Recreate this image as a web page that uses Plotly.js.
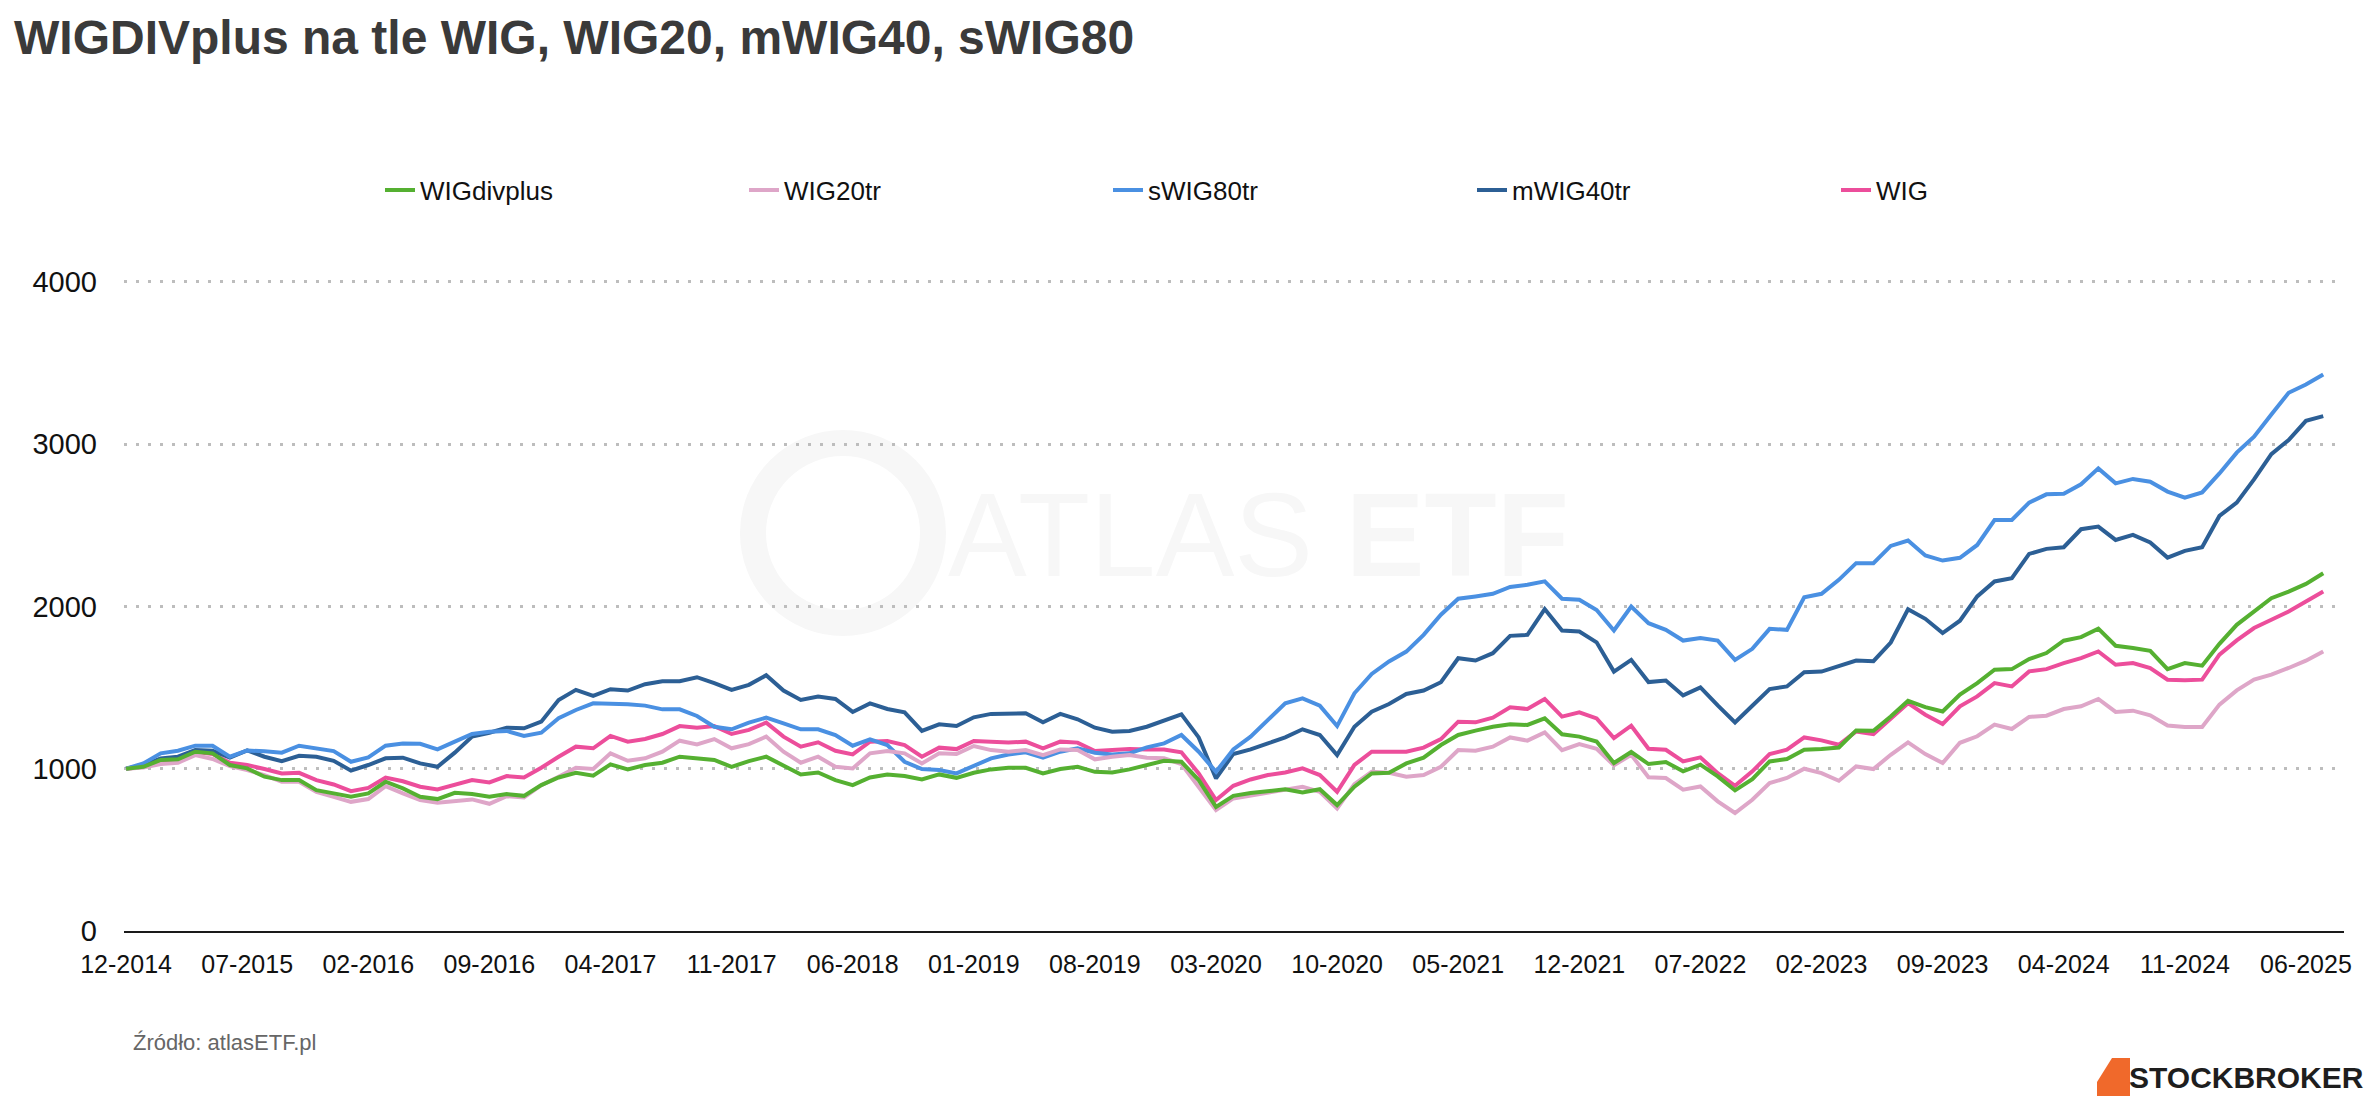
<!DOCTYPE html>
<html>
<head>
<meta charset="utf-8">
<script src="https://cdn.plot.ly/plotly-3.0.1.min.js"></script>
<style>
  html, body { margin: 0; padding: 0; background: #ffffff; }
  #chart { width: 2378px; height: 1104px; }
</style>
</head>
<body>
<div id="chart"></div>
<script>
// ---- data (monthly, 12-2014 .. 07-2025, start = 1000) ----
const startMonth = 12, startYear = 2014, monthCount = 128;
const months = [];
for (let i = 0; i < monthCount; i++) {
  const m = (startMonth - 1 + i) % 12 + 1;
  const y = startYear + Math.floor((startMonth - 1 + i) / 12);
  months.push((m < 10 ? '0' + m : '' + m) + '-' + y);
}

const tickLabels = ['12-2014','07-2015','02-2016','09-2016','04-2017','11-2017','06-2018',
  '01-2019','08-2019','03-2020','10-2020','05-2021','12-2021','07-2022','02-2023',
  '09-2023','04-2024','11-2024','06-2025'];

const yTicks = [0, 1000, 2000, 3000, 4000];

const wigDivPlus = [
  1000,1012,1054,1058,1105,1095,1023,1002,951,930,930,868,848,827,848,920,879,827,813,852,844,827,
  844,833,899,946,975,957,1027,996,1023,1037,1074,1064,1054,1012,1047,1074,1016,965,977,930,899,946,
  965,955,934,965,944,975,996,1006,1006,971,998,1012,981,977,996,1023,1049,1043,930,765,833,850,
  862,874,854,874,776,889,971,975,1033,1068,1146,1208,1235,1259,1274,1270,1311,1212,1198,1168,
  1035,1103,1029,1041,984,1025,953,867,936,1045,1060,1117,1121,1131,1236,1234,1322,1419,1380,1353,1457,
  1528,1610,1614,1676,1713,1789,1811,1863,1758,1744,1727,1614,1651,1635,1770,1887,1969,2051,2092,2139,2205];

const wig20tr = [
  1000,1008,1029,1037,1084,1060,1016,992,961,920,920,858,827,796,813,893,848,807,790,800,811,784,
  831,823,899,951,1006,998,1095,1049,1064,1105,1173,1150,1183,1126,1152,1198,1105,1037,1074,1012,1002,1095,
  1109,1095,1033,1095,1091,1140,1115,1105,1115,1084,1119,1115,1058,1074,1084,1068,1064,1029,889,745,817,835,
  848,868,889,858,755,905,981,975,951,961,1012,1115,1111,1136,1193,1173,1224,1115,1152,1123,
  1021,1086,947,943,871,891,799,727,809,912,943,1000,973,926,1014,998,1086,1162,1090,1035,1160,
  1200,1272,1245,1319,1327,1368,1385,1430,1350,1358,1329,1266,1257,1257,1395,1483,1549,1580,1621,1666,1723];

const swig80tr = [
  1000,1033,1095,1111,1142,1142,1074,1113,1107,1099,1142,1124,1109,1043,1070,1142,1156,1154,1119,1167,1214,1228,
  1233,1202,1222,1311,1362,1403,1403,1397,1389,1366,1366,1325,1259,1243,1284,1315,1280,1243,1243,1208,1142,1181,
  1146,1043,998,992,971,1019,1064,1088,1101,1068,1105,1126,1099,1088,1095,1132,1156,1208,1105,981,1119,1198,
  1300,1403,1434,1389,1263,1465,1584,1661,1722,1825,1949,2048,2062,2078,2120,2134,2155,2048,2041,1978,
  1852,2000,1897,1856,1790,1805,1790,1671,1739,1862,1856,2057,2078,2164,2267,2267,2373,2406,2314,2283,2300,
  2379,2533,2533,2640,2691,2695,2753,2851,2759,2786,2769,2708,2671,2703,2820,2948,3046,3183,3317,3368,3430];

const mwig40tr = [
  1000,1023,1064,1074,1115,1111,1068,1113,1074,1047,1080,1074,1049,988,1023,1064,1068,1033,1012,1099,1198,1222,
  1253,1249,1290,1424,1486,1449,1490,1482,1521,1539,1539,1564,1527,1486,1517,1576,1482,1424,1445,1430,1350,1403,
  1368,1348,1233,1274,1263,1317,1338,1342,1342,1286,1338,1305,1253,1228,1233,1259,1300,1335,1193,940,1091,1119,
  1156,1193,1243,1208,1084,1259,1352,1399,1461,1482,1533,1681,1667,1712,1819,1825,1984,1852,1846,1779,
  1599,1671,1534,1544,1452,1501,1390,1285,1388,1491,1507,1595,1599,1630,1667,1663,1778,1983,1924,1836,1912,
  2062,2154,2174,2324,2355,2365,2476,2492,2410,2441,2394,2301,2343,2365,2558,2640,2783,2939,3026,3144,3173];

const wig = [
  1000,1012,1049,1058,1105,1091,1037,1023,998,971,975,930,903,862,882,946,923,889,872,899,930,916,
  955,946,1006,1074,1136,1126,1202,1167,1183,1214,1263,1253,1263,1214,1239,1284,1198,1136,1163,1111,1088,1167,
  1171,1146,1074,1130,1121,1171,1163,1161,1167,1126,1167,1161,1109,1115,1121,1119,1119,1101,971,807,895,934,
  961,977,1002,961,858,1023,1105,1105,1105,1130,1183,1290,1286,1315,1379,1368,1430,1321,1348,1310,
  1189,1265,1123,1117,1045,1070,973,895,984,1090,1117,1193,1175,1148,1230,1214,1312,1404,1333,1275,1385,
  1446,1528,1507,1600,1614,1651,1682,1723,1641,1651,1621,1549,1545,1549,1703,1791,1867,1918,1969,2031,2092];

const seriesNames = ['WIGdivplus', 'WIG20tr', 'sWIG80tr', 'mWIG40tr', 'WIG'];
const seriesValues = [wigDivPlus, wig20tr, swig80tr, mwig40tr, wig];
const seriesColors = ['#55b031', '#dea6c8', '#4a90e2', '#2c5f95', '#ec4e9b'];

const FONT = '"Liberation Sans", Arial, sans-serif';

// draw in reverse so the legend order stays as in the reference and green sits on top
const traces = [];
for (let i = seriesNames.length - 1; i >= 0; i--) {
  traces.push({
    type: 'scatter', mode: 'lines',
    name: seriesNames[i],
    x: months, y: seriesValues[i],
    line: { color: seriesColors[i], width: 4, shape: 'linear' },
    hoverinfo: 'skip'
  });
}

// geometry helpers (pixels -> paper)
const W = 2378, H = 1104, ML = 124, MR = 34, MT = 280, MB = 173;
const PW = W - ML - MR, PH = H - MT - MB;
const px = x => (x - ML) / PW;
const py = y => (H - MB - y) / PH;

const layout = {
  width: W, height: H,
  margin: { l: ML, r: MR, t: MT, b: MB, pad: 0 },
  paper_bgcolor: '#ffffff', plot_bgcolor: 'rgba(0,0,0,0)',
  font: { family: FONT, color: '#111111', size: 26 },
  title: {
    text: '<b>WIGDIVplus na tle WIG, WIG20, mWIG40, sWIG80</b>',
    font: { family: FONT, size: 48, color: '#3a3a3a' },
    x: 14 / W, xref: 'container', xanchor: 'left',
    y: 1 - 37 / H, yref: 'container', yanchor: 'middle'
  },
  showlegend: true,
  legend: {
    orientation: 'h', traceorder: 'reversed',
    x: px(380), xanchor: 'left', y: py(190), yanchor: 'middle',
    font: { family: FONT, size: 26, color: '#111111' },
    entrywidth: 319, entrywidthmode: 'pixels',
    bgcolor: 'rgba(0,0,0,0)'
  },
  xaxis: {
    type: 'category',
    range: [-0.12, 128.2],
    tickmode: 'array', tickvals: tickLabels, ticktext: tickLabels,
    showgrid: false, zeroline: false,
    showline: true, linecolor: '#1a1a1a', linewidth: 2,
    ticks: '', tickfont: { family: FONT, size: 25, color: '#111111' },
    ticklabelstandoff: 10, fixedrange: true
  },
  yaxis: {
    range: [0, 4012],
    tickmode: 'array', tickvals: yTicks, ticktext: yTicks.map(String),
    showgrid: true, gridcolor: '#bdbdbd', gridwidth: 3, griddash: '3px,9px',
    zeroline: false, showline: false, ticks: '',
    tickfont: { family: FONT, size: 29, color: '#111111' },
    ticklabelstandoff: 26, fixedrange: true
  },
  shapes: [
    { type: 'circle', xref: 'paper', yref: 'paper', layer: 'below',
      x0: px(843 - 90), x1: px(843 + 90), y0: py(533 + 90), y1: py(533 - 90),
      line: { color: '#f7f7f7', width: 26 } },
    { type: 'path', xref: 'paper', yref: 'paper', layer: 'above',
      path: 'M ' + px(2112) + ' ' + py(1058) + ' L ' + px(2130) + ' ' + py(1058) +
            ' L ' + px(2130) + ' ' + py(1096) + ' L ' + px(2097) + ' ' + py(1096) +
            ' L ' + px(2097) + ' ' + py(1082) + ' Z',
      fillcolor: '#f0692b', line: { width: 0 } }
  ],
  annotations: [
    { text: 'ATLAS <b>ETF</b>', xref: 'paper', yref: 'paper', x: px(1258), y: py(535),
      xanchor: 'center', yanchor: 'middle', showarrow: false,
      font: { family: FONT, size: 118, color: '#f7f7f7' } },
    { text: 'Źródło: atlasETF.pl', xref: 'paper', yref: 'paper', x: px(131), y: py(1042),
      xanchor: 'left', yanchor: 'middle', showarrow: false,
      font: { family: FONT, size: 22, color: '#666666' } },
    { text: '<b>STOCKBROKER</b>', xref: 'paper', yref: 'paper', x: px(2366), y: py(1077),
      xanchor: 'right', yanchor: 'middle', showarrow: false,
      font: { family: FONT, size: 30, color: '#1e1e1e' } }
  ]
};

Plotly.newPlot('chart', traces, layout, { displayModeBar: false, staticPlot: true });
</script>
</body>
</html>
